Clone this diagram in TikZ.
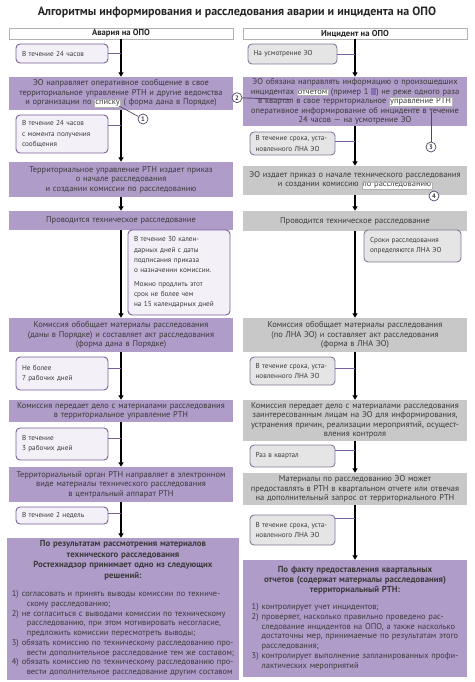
\documentclass[tikz,border=0pt]{standalone}
\usepackage{fontspec}
\setmainfont{PT Sans}
\usetikzlibrary{positioning, arrows.meta, calc}
\definecolor{cStage}{HTML}{B09CC9}
\definecolor{cStageGray}{HTML}{C8C8C8}
\definecolor{cNote}{HTML}{F4F0F8}
\definecolor{cNoteGray}{HTML}{E5E5E5}
\definecolor{cEdge}{HTML}{7B5E9C}
\definecolor{cEdgeGray}{HTML}{85769A}
\definecolor{cLead}{HTML}{54456A}
\definecolor{cIcon}{HTML}{8A6FB0}
\definecolor{cText}{HTML}{3A3A3A}
\newcommand{\hlword}[1]{{\setlength{\fboxsep}{0.5pt}\setlength{\fboxrule}{0.4pt}\fcolorbox{gray!60}{white}{#1}}}

\begin{document}
\begin{tikzpicture}[x=1pt, y=-1pt,
    font=\fontsize{8.4}{9.4}\selectfont, text=cText,
    head/.style={draw=gray!60, fill=white, minimum width=224pt, minimum height=11pt, inner sep=0pt, font=\fontsize{8.6}{9}\selectfont\bfseries, text=black!85},
    stage/.style={fill=cStage, minimum width=224pt, inner sep=0pt, text width=224pt, align=center},
    stagegray/.style={stage, fill=cStageGray},
    note/.style={draw=cEdge, fill=cNote, line width=0.9pt, rounded corners=4pt, inner sep=0pt, align=left, font=\fontsize{7.2}{10.3}\selectfont},
    notegray/.style={note, draw=cEdgeGray, fill=cNoteGray},
    num/.style={circle, draw=cLead, fill=white, line width=0.7pt, minimum size=10pt, inner sep=0pt, font=\fontsize{6.5}{6.5}\selectfont\bfseries},
    flow/.style={line width=1.2pt, -{Triangle[width=5pt,length=4.5pt]}},
    tie/.style={draw=cEdge, line width=0.9pt},
    lead/.style={draw=cLead, line width=0.7pt}]
    \useasboundingbox (0,0) rectangle (474,682);

    \node[font=\fontsize{12}{14}\selectfont\bfseries, text=black!85] (title) at (237,12)
        {Алгоритмы информирования и расследования аварии и инцидента на ОПО};
    \node[head] (hdrL) at (121,33.5) {Авария на ОПО};
    \node[head] (hdrR) at (355,33.5) {Инцидент на ОПО};

    % left column
    \node[stage, minimum height=33pt] (L1) at (121,93.5)
        {ЭО направляет оперативное сообщение в свое\\территориальное управление РТН и другие ведомства\\и организации по \hlword{списку} ( форма дана в Порядке)};
    \node[stage, minimum height=35pt] (L2) at (121,179.5)
        {Территориальное управление РТН издает приказ\\о начале расследования\\и создании комиссии по расследованию};
    \node[stage, minimum height=19pt] (L3) at (121,220.5) {Проводится техническое расследование};
    \node[stage, minimum height=34pt] (L4) at (121,335)
        {Комиссия обобщает материалы расследования\\(даны в Порядке) и составляет акт расследования\\(форма дана в Порядке)};
    \node[stage, minimum height=22pt] (L5) at (121,411)
        {Комиссия передает дело с материалами расследования\\в территориальное управление РТН};
    \node[stage, minimum height=35pt] (L6) at (121,484.5)
        {Территориальный орган РТН направляет в электронном\\виде материалы технического расследования\\в центральный аппарат РТН};
    \node[stage, minimum width=232pt, text width=228pt, minimum height=142pt] (L7) at (123,609) {%
        {\centering\fontsize{8.8}{10.5}\selectfont\bfseries По результатам рассмотрения материалов\\технического расследования\\Ростехнадзор принимает одно из следующих\\решений:\par}
        \vspace{9pt}
        {\fontsize{8.4}{9.75}\selectfont
        \begin{tabular}{@{}l@{\hspace{3pt}}l@{}}
        1) & согласовать и принять выводы комиссии по техниче-\\
           & \hspace{5pt}скому расследованию;\\
        2) & не согласиться с выводами комиссии по техническому\\
           & \hspace{5pt}расследованию, при этом мотивировать несогласие,\\
           & \hspace{5pt}предложить комиссии пересмотреть выводы;\\
        3) & обязать комиссию по техническому расследованию про-\\
           & \hspace{5pt}вести дополнительное расследование тем же составом;\\
        4) & обязать комиссию по техническому расследованию про-\\
           & \hspace{5pt}вести дополнительное расследование другим составом
        \end{tabular}\par}};

    \node[note, minimum width=92pt, text width=80pt, minimum height=19pt] (nL1) at (62,53.5) {В течение 24 часов};
    \node[note, minimum width=92pt, text width=80pt, minimum height=38pt] (nL2) at (62,134)
        {В течение 24 часов\\с момента получения\\сообщения};
    \node[note, minimum width=102pt, text width=90pt, minimum height=85pt] (nL3) at (179,272.5)
        {В течение 30 кален-\\дарных дней с даты\\подписания приказа\\о назначении комиссии.\\[3pt]Можно продлить этот\\срок не более чем\\на 15 календарных дней};
    \node[note, minimum width=92pt, text width=80pt, minimum height=33pt] (nL4) at (62,373.5) {Не более\\7 рабочих дней};
    \node[note, minimum width=92pt, text width=80pt, minimum height=32pt] (nL5) at (62,444) {В течение\\3 рабочих дней};
    \node[note, minimum width=92pt, text width=80pt, minimum height=17pt] (nL6) at (62,515.5) {В течение 2 недель};

    % right column
    \node[stage, minimum height=49pt] (R1) at (355,101.5)
        {ЭО обязана направлять информацию о произошедших\\инцидентах \hlword{отчетом} (пример 1 \textcolor{cIcon}{\rule[-0.5pt]{5pt}{6.5pt}}) не реже одного раза\\в квартал в свое территориальное \hlword{управление РТН}\\оперативное информирование об инциденте в течение\\24 часов — на усмотрение ЭО};
    \node[stagegray, minimum height=29pt] (R2) at (355,180.5)
        {ЭО издает приказ о начале технического расследования\\и создании комиссию \hlword{по расследованию}};
    \node[stagegray, minimum height=20pt] (R3) at (355,221) {Проводится техническое расследование};
    \node[stagegray, minimum height=34pt] (R4) at (355,335)
        {Комиссия обобщает материалы расследования\\(по ЛНА ЭО) и составляет акт расследования\\(форма в ЛНА ЭО)};
    \node[stagegray, minimum height=41pt] (R5) at (355,420.5)
        {Комиссия передает дело с материалами расследования\\заинтересованным лицам на ЭО для информирования,\\устранения причин, реализации мероприятий, осущест-\\вления контроля};
    \node[stagegray, minimum height=32pt] (R6) at (355,489)
        {Материалы по расследованию ЭО  может\\предоставлять в РТН в квартальном отчете или  отвечая\\на дополнительный  запрос от территориального  РТН};
    \node[stage, minimum height=117pt, text width=221pt] (R7) at (355,618.5) {%
        {\centering\fontsize{8.8}{10}\selectfont\bfseries По факту предоставления квартальных\\отчетов (содержат материалы расследования)\\территориальный  РТН:\par}
        \vspace{8pt}
        {\fontsize{8.4}{9.7}\selectfont
        \begin{tabular}{@{}l@{\hspace{3pt}}l@{}}
        1) & контролирует учет инцидентов;\\
        2) & проверяет,  насколько  правильно проведено рас-\\
           & следование инцидентов на ОПО, а также  насколько\\
           & достаточны мер, принимаемые по результатам этого\\
           & расследования;\\
        3) & контролирует выполнение запланированных профи-\\
           & лактических мероприятий
        \end{tabular}\par}};

    \node[notegray, minimum width=89pt, text width=78pt, minimum height=20pt] (nR1) at (292.5,54) {На усмотрение ЭО};
    \node[notegray, minimum width=85pt, text width=74pt, minimum height=23pt] (nR2) at (292.5,143.5)
        {В течение срока, уста-\\новленного ЛНА ЭО};
    \node[notegray, minimum width=97pt, text width=85pt, minimum height=32pt] (nR3) at (412.5,246)
        {Сроки расследования\\определяются ЛНА ЭО};
    \node[notegray, minimum width=85pt, text width=74pt, minimum height=28pt] (nR4) at (292.5,371)
        {В течение срока, уста-\\новленного ЛНА ЭО};
    \node[notegray, minimum width=85pt, text width=74pt, minimum height=22pt] (nR5) at (292.5,456) {Раз в квартал};
    \node[notegray, minimum width=85pt, text width=74pt, minimum height=30pt] (nR6) at (292.5,530)
        {В течение срока, уста-\\новленного ЛНА ЭО};

    % arrows down the columns
    \foreach \a/\b in {hdrL/L1, L1/L2, L2/L3, L3/L4, L4/L5, L5/L6, L6/L7,
                       hdrR/R1, R1/R2, R2/R3, R3/R4, R4/R5, R5/R6, R6/R7}
        \draw[flow] (\a.south) -- (\a.south |- \b.north);

    % notes tied to the arrows
    \foreach \n/\s/\c in {nL1/0/hdrL, nL2/9/hdrL, nL4/5.5/hdrL, nL5/6/hdrL, nL6/2/hdrL,
                          nR1/0/hdrR, nR2/2/hdrR, nR4/3/hdrR, nR5/6/hdrR, nR6/12/hdrR}
        \draw[tie] ([yshift=\s pt]\n.east) -- ([yshift=\s pt]\n.east -| \c.south);

    % numbered marks
    \node[num] (c1) at (143,119) {1};
    \node[num] (c2) at (237,97.7) {2};
    \node[num] (c3) at (431,147) {3};
    \node[num] (c4) at (434,196) {4};
    \coordinate (spisok) at (119,106);
    \coordinate (incid) at (291,99.5);
    \coordinate (uprav) at (431,112);
    \coordinate (porassl) at (433,191);
    \draw[lead] (c1) -- (spisok);
    \draw[lead, line width=0.9pt] (c2) -- (incid);
    \draw[lead] (c3) -- (uprav);
    \draw[lead] (c4) -- (porassl);
\end{tikzpicture}
\end{document}
